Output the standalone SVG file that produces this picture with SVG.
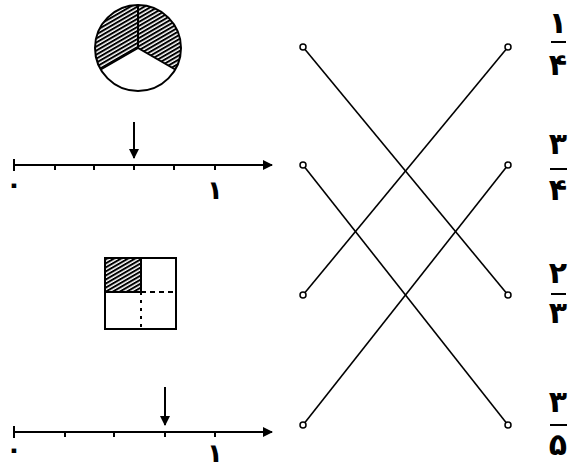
<svg xmlns="http://www.w3.org/2000/svg" width="569" height="469" viewBox="0 0 569 469">
<style>
.ln{stroke:#000;stroke-width:2;fill:none}
.tk{stroke:#000;stroke-width:2}
.cn{stroke:#000;stroke-width:1.6;fill:none}
.dot{fill:#fff;stroke:#000;stroke-width:1.5}
.num{font-family:"DejaVu Sans",sans-serif;font-weight:bold;font-size:30px;fill:#000;text-anchor:middle}
.lbl{font-family:"DejaVu Sans",sans-serif;font-weight:bold;font-size:26px;fill:#000;text-anchor:middle}
</style>
<defs>
<pattern id="hatch" width="3.5" height="3.5" patternUnits="userSpaceOnUse" patternTransform="rotate(60)">
<rect width="3.5" height="3.5" fill="#fff"/>
<rect width="2" height="3.5" fill="#000"/>
</pattern>
<marker id="ah" viewBox="0 0 10 10" refX="9" refY="5" markerWidth="5" markerHeight="5" orient="auto">
<path d="M0,0 L10,5 L0,10 Z" fill="#000"/>
</marker>
</defs>

<g id="circle">
<path d="M138,48 L100.8,69.5 A43,43 0 1 1 175.2,69.5 Z" fill="url(#hatch)"/>
<circle cx="138" cy="48" r="43" class="ln"/>
<path d="M138,5 L138,48 L100.8,69.5 M138,48 L175.2,69.5" class="ln"/>
</g>

<g id="numberline1">
<line x1="14" y1="165" x2="272" y2="165" class="ln" marker-end="url(#ah)"/>
<line x1="14" y1="159" x2="14" y2="171" class="tk"/>
<line x1="55" y1="165" x2="55" y2="170" class="tk"/>
<line x1="94" y1="165" x2="94" y2="170" class="tk"/>
<line x1="134" y1="165" x2="134" y2="170" class="tk"/>
<line x1="174" y1="165" x2="174" y2="170" class="tk"/>
<line x1="215" y1="165" x2="215" y2="170" class="tk"/>
<line x1="134" y1="122" x2="134" y2="158" class="ln" marker-end="url(#ah)"/>
<text x="14" y="193" class="lbl">۰</text>
<text x="215" y="199" class="lbl">۱</text>
</g>

<g id="square">
<rect x="105" y="258" width="36" height="34" fill="url(#hatch)"/>
<rect x="105" y="258" width="36" height="34" class="ln"/>
<rect x="105" y="258" width="71" height="71" class="ln"/>
<line x1="141" y1="292" x2="176" y2="292" class="ln" stroke-dasharray="5,4"/>
<line x1="141" y1="292" x2="141" y2="329" class="ln" stroke-dasharray="3,5"/>
</g>

<g id="numberline2">
<line x1="14" y1="432" x2="272" y2="432" class="ln" marker-end="url(#ah)"/>
<line x1="14" y1="426" x2="14" y2="438" class="tk"/>
<line x1="65" y1="432" x2="65" y2="437" class="tk"/>
<line x1="114" y1="432" x2="114" y2="437" class="tk"/>
<line x1="165" y1="432" x2="165" y2="437" class="tk"/>
<line x1="215" y1="432" x2="215" y2="437" class="tk"/>
<line x1="165" y1="387" x2="165" y2="425" class="ln" marker-end="url(#ah)"/>
<text x="14" y="458" class="lbl">۰</text>
<text x="215" y="462" class="lbl">۱</text>
</g>

<g id="connectors">
<line x1="303" y1="47" x2="508" y2="295" class="cn"/>
<line x1="303" y1="165" x2="508" y2="425" class="cn"/>
<line x1="303" y1="295" x2="508" y2="47" class="cn"/>
<line x1="303" y1="425" x2="508" y2="165" class="cn"/>
</g>

<g id="dots">
<circle cx="303" cy="47" r="3" class="dot"/>
<circle cx="303" cy="165" r="3" class="dot"/>
<circle cx="303" cy="295" r="3" class="dot"/>
<circle cx="303" cy="425" r="3" class="dot"/>
<circle cx="508" cy="47" r="3" class="dot"/>
<circle cx="508" cy="165" r="3" class="dot"/>
<circle cx="508" cy="295" r="3" class="dot"/>
<circle cx="508" cy="425" r="3" class="dot"/>
</g>

<g id="frac1">
<text x="558" y="33" class="num">۱</text>
<line x1="551" y1="42" x2="566" y2="42" class="ln"/>
<text x="558" y="75" class="num">۴</text>
</g>
<g id="frac2">
<text x="558" y="154" class="num">۳</text>
<line x1="550" y1="169" x2="567" y2="169" class="ln"/>
<text x="558" y="200" class="num">۴</text>
</g>
<g id="frac3">
<text x="558" y="283" class="num">۲</text>
<line x1="551" y1="294" x2="566" y2="294" class="ln"/>
<text x="558" y="323" class="num">۳</text>
</g>
<g id="frac4">
<text x="558" y="412" class="num">۳</text>
<line x1="550" y1="425" x2="567" y2="425" class="ln"/>
<text x="558" y="455" class="num">۵</text>
</g>
</svg>
